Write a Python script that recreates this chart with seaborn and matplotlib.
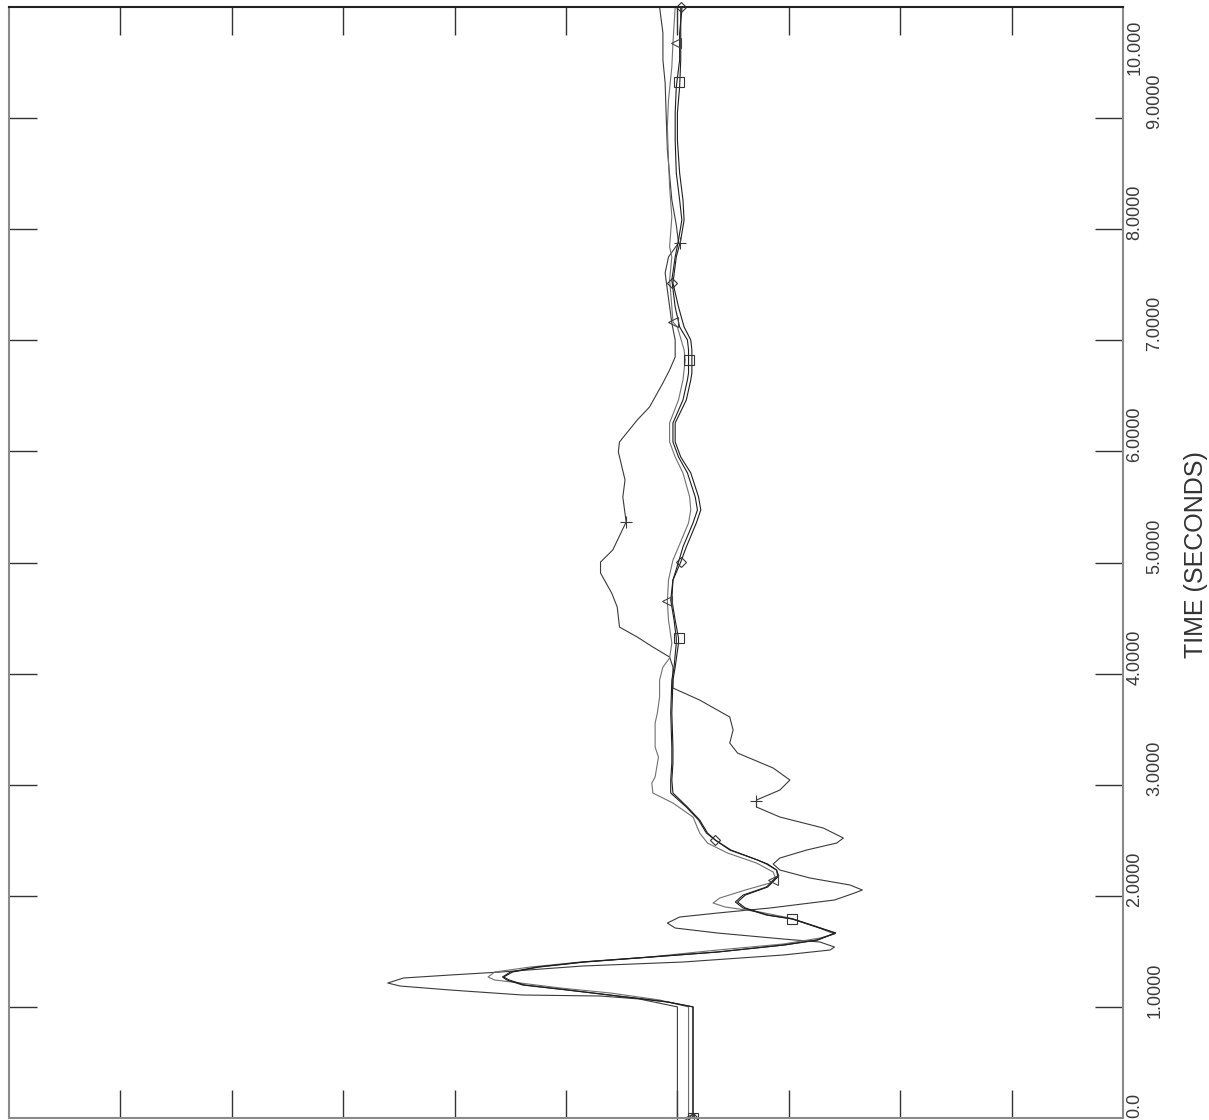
import numpy as np
import pandas as pd
import matplotlib
matplotlib.use("Agg")
import matplotlib.pyplot as plt
import matplotlib.transforms as mtransforms
import seaborn as sns

# estilo base
sns.set_style("white")
plt.rcParams['font.family'] = ['Liberation Sans', 'DejaVu Sans']

# curva "quadrado"
t_square = [0.0, 1.0, 1.044, 1.098, 1.152, 1.197, 1.242, 1.269, 1.314, 1.359, 1.404, 1.449,
            1.494, 1.557, 1.602, 1.665, 1.719, 1.791, 1.827, 1.890, 1.944, 2.007, 2.079,
            2.178, 2.232, 2.286, 2.322, 2.412, 2.502, 2.565, 2.682, 2.799, 2.925, 3.042,
            3.195, 3.339, 3.645, 3.942, 4.059, 4.275, 4.320, 4.482, 4.662, 4.842, 5.004,
            5.140, 5.356, 5.473, 5.590, 5.806, 5.950, 6.085, 6.256, 6.463, 6.643, 6.706,
            6.913, 7.003, 7.120, 7.300, 7.543, 7.750, 7.903, 8.083, 8.263, 8.506, 8.803,
            9.046, 9.280, 9.523, 9.766, 9.973, 10.0]
v_square = [6.14, 6.14, 5.91, 5.46, 5.01, 4.61, 4.47, 4.43, 4.50, 4.74, 5.15, 5.75,
            6.36, 6.95, 7.25, 7.42, 7.25, 7.03, 6.80, 6.59, 6.52, 6.59, 6.80,
            6.90, 6.89, 6.80, 6.72, 6.47, 6.34, 6.27, 6.20, 6.09, 5.96, 5.95,
            5.96, 5.96, 5.95, 5.96, 5.98, 6.01, 6.01, 5.98, 5.95, 5.96, 6.01,
            6.05, 6.14, 6.18, 6.16, 6.09, 6.01, 5.96, 5.96, 6.05, 6.09, 6.10,
            6.10, 6.09, 6.02, 5.98, 5.95, 5.98, 6.01, 6.04, 6.02, 5.99, 5.98,
            5.98, 5.99, 6.02, 6.02, 6.04, 6.04]

# curva "losango"
t_diamond = [0.0, 1.0, 1.044, 1.098, 1.152, 1.197, 1.242, 1.269, 1.314, 1.359, 1.404, 1.449,
             1.494, 1.557, 1.602, 1.665, 1.719, 1.791, 1.827, 1.890, 1.944, 2.007, 2.079,
             2.178, 2.232, 2.286, 2.322, 2.412, 2.502, 2.565, 2.682, 2.799, 2.925, 3.042,
             3.195, 3.339, 3.645, 3.942, 4.059, 4.275, 4.320, 4.482, 4.662, 4.842, 5.004,
             5.140, 5.356, 5.473, 5.590, 5.806, 5.950, 6.085, 6.256, 6.463, 6.643, 6.706,
             6.913, 7.003, 7.120, 7.300, 7.516, 7.750, 7.903, 8.083, 8.263, 8.506, 8.803,
             9.046, 9.280, 9.523, 9.766, 9.973, 10.0]
v_diamond = [6.14, 6.14, 5.92, 5.47, 5.02, 4.63, 4.49, 4.44, 4.52, 4.76, 5.17, 5.77,
             6.36, 6.96, 7.26, 7.42, 7.26, 7.04, 6.81, 6.61, 6.54, 6.61, 6.81,
             6.91, 6.89, 6.81, 6.72, 6.48, 6.34, 6.26, 6.19, 6.08, 5.94, 5.94,
             5.95, 5.95, 5.94, 5.95, 5.97, 5.99, 5.99, 5.97, 5.94, 5.96, 6.03,
             6.08, 6.17, 6.21, 6.19, 6.12, 6.03, 5.98, 5.98, 6.08, 6.12, 6.13,
             6.13, 6.12, 6.06, 6.01, 5.96, 5.99, 6.03, 6.06, 6.05, 6.02, 6.00,
             6.00, 6.02, 6.03, 6.03, 6.03, 6.03]

# curva "triângulo"
t_triangle = [0.0, 1.0, 1.062, 1.125, 1.170, 1.215, 1.242, 1.269, 1.314, 1.359, 1.404, 1.449,
              1.512, 1.566, 1.620, 1.656, 1.719, 1.800, 1.854, 1.899, 1.935, 1.980, 2.052,
              2.115, 2.160, 2.214, 2.295, 2.385, 2.475, 2.565, 2.709, 2.835, 2.925, 3.015,
              3.069, 3.249, 3.339, 3.555, 3.645, 3.789, 3.942, 4.059, 4.140, 4.275, 4.482,
              4.653, 4.842, 5.022, 5.140, 5.356, 5.473, 5.590, 5.806, 5.950, 6.085, 6.256,
              6.463, 6.643, 6.823, 6.913, 7.120, 7.165, 7.300, 7.543, 7.750, 7.840, 8.110,
              8.380, 8.623, 8.920, 9.163, 9.460, 9.676, 10.0]
v_triangle = [6.10, 6.10, 5.84, 5.40, 4.95, 4.59, 4.36, 4.30, 4.36, 4.68, 5.13, 5.75,
              6.36, 6.95, 7.28, 7.41, 7.25, 7.01, 6.74, 6.43, 6.32, 6.38, 6.61,
              6.83, 6.88, 6.86, 6.71, 6.45, 6.27, 6.20, 6.14, 5.96, 5.78, 5.77,
              5.80, 5.83, 5.80, 5.80, 5.82, 5.84, 5.84, 5.87, 5.93, 5.95, 5.92,
              5.91, 5.92, 5.96, 6.01, 6.10, 6.12, 6.11, 6.05, 5.98, 5.93, 5.93,
              6.01, 6.05, 6.07, 6.06, 6.00, 5.96, 5.95, 5.93, 5.95, 5.93, 5.95,
              5.93, 5.92, 5.91, 5.92, 5.95, 5.96, 5.98]

# curva "mais"
t_plus = [0.0, 1.0, 1.071, 1.098, 1.107, 1.152, 1.188, 1.215, 1.260, 1.287, 1.314, 1.368,
          1.404, 1.467, 1.512, 1.539, 1.584, 1.611, 1.665, 1.710, 1.755, 1.809, 1.845,
          1.890, 1.962, 2.025, 2.052, 2.097, 2.160, 2.232, 2.286, 2.340, 2.412, 2.475,
          2.520, 2.610, 2.709, 2.799, 2.862, 2.952, 3.042, 3.150, 3.285, 3.375, 3.492,
          3.609, 3.762, 3.870, 4.059, 4.149, 4.239, 4.329, 4.419, 4.599, 4.725, 4.905,
          5.004, 5.113, 5.365, 5.590, 5.743, 5.995, 6.085, 6.283, 6.400, 6.616, 6.733,
          6.850, 7.003, 7.156, 7.453, 7.606, 7.750, 7.876, 8.038, 8.263, 8.488, 8.713,
          9.001, 9.316, 9.523, 9.766, 10.0]
v_plus = [6.00, 6.00, 5.66, 5.31, 4.61, 3.96, 3.51, 3.40, 3.54, 3.96, 4.41, 5.15,
          6.05, 6.95, 7.37, 7.41, 7.28, 6.95, 6.36, 5.98, 5.91, 6.02, 6.36,
          6.83, 7.41, 7.59, 7.66, 7.55, 7.19, 6.92, 6.86, 6.92, 7.16, 7.43,
          7.49, 7.31, 6.92, 6.71, 6.71, 6.92, 7.01, 6.86, 6.54, 6.47, 6.50,
          6.47, 6.20, 5.96, 5.96, 5.93, 5.78, 5.64, 5.48, 5.46, 5.41, 5.31,
          5.31, 5.42, 5.54, 5.51, 5.53, 5.47, 5.48, 5.64, 5.75, 5.87, 5.93,
          5.98, 5.98, 5.95, 5.91, 5.89, 5.92, 6.01, 5.99, 5.95, 5.93, 5.91,
          5.90, 5.89, 5.87, 5.87, 5.84]

# posições dos marcadores (tempo, valor)
mk_square_t = [0.0, 1.791, 4.320, 6.823, 9.325]
mk_square_v = [6.14, 7.03, 6.01, 6.10, 6.01]
mk_triangle_t = [0.0, 2.142, 4.653, 7.165, 9.676]
mk_triangle_v = [6.10, 6.86, 5.91, 5.96, 5.99]
mk_diamond_t = [0.0, 2.502, 5.004, 7.516, 10.0]
mk_diamond_v = [6.14, 6.34, 6.03, 5.95, 6.03]
mk_plus_t = [0.0, 2.853, 5.365, 7.876]
mk_plus_v = [6.00, 6.71, 5.54, 6.02]

time_ticks = [0, 1, 2, 3, 4, 5, 6, 7, 8, 9, 10]
time_labels = ["0.0", "1.0000", "2.0000", "3.0000", "4.0000", "5.0000",
               "6.0000", "7.0000", "8.0000", "9.0000", "10.000"]

fig = plt.figure(figsize=(12.09, 11.2), dpi=100)
ax = fig.add_axes([9 / 1209, 2 / 1120, 1114 / 1209, 1111 / 1120])

curves = [
    (v_plus, t_plus, "#3a3a3a"),
    (v_triangle, t_triangle, "#707070"),
    (v_diamond, t_diamond, "#1e1e1e"),
    (v_square, t_square, "#1e1e1e"),
]
for vv, tt, cor in curves:
    sns.lineplot(x=vv, y=tt, sort=False, estimator=None, color=cor, linewidth=0.8, ax=ax)

marcas = [
    (mk_plus_v, mk_plus_t, "+", "#3a3a3a", 8),
    (mk_triangle_v, mk_triangle_t, "<", "#444444", 7),
    (mk_diamond_v, mk_diamond_t, "D", "#333333", 5),
    (mk_square_v, mk_square_t, "s", "#333333", 6.5),
]
for vv, tt, mk, cor, ms in marcas:
    ax.plot(vv, tt, linestyle="none", marker=mk, markerfacecolor="none",
            markeredgecolor=cor, markersize=ms, markeredgewidth=0.8, clip_on=False)

ax.set_xlim(0, 10)
ax.set_ylim(0, 10)
ax.set_xticks(range(1, 10))
ax.set_yticks(range(1, 10))
ax.tick_params(axis="both", which="both", direction="in", length=20, width=1.0,
               color="#333333", top=True, bottom=True, left=True, right=True,
               labelleft=False, labelbottom=False, labeltop=False, labelright=False)

for lado, spine in ax.spines.items():
    spine.set_visible(True)
    spine.set_linewidth(1.5)
    spine.set_color("#222222" if lado == "top" else "#8a8a8a")

ax.set_xlabel("")
ax.set_ylabel("")

# rótulos do tempo, girados, alternando a distância do eixo
base = mtransforms.blended_transform_factory(ax.transAxes, ax.transData)
for k, (tk, rot) in enumerate(zip(time_ticks, time_labels)):
    dx = 12 if k % 2 == 0 else 32
    if tk == 0:
        dy, va = 0, "bottom"
    elif tk == 10:
        dy, va = -13, "top"
    else:
        dy, va = -11, "bottom"
    tr = mtransforms.offset_copy(base, fig=fig, x=dx, y=dy, units="dots")
    ax.text(1, tk, rot, rotation=90, ha="center", va=va, transform=tr,
            fontsize=13, color="#3a3a3a")

tr = mtransforms.offset_copy(base, fig=fig, x=73, y=0, units="dots")
ax.text(1, 5.07, "TIME (SECONDS)", rotation=90, ha="center", va="center",
        transform=tr, fontsize=18, color="#333333")

fig.savefig("out.png", dpi=100)
